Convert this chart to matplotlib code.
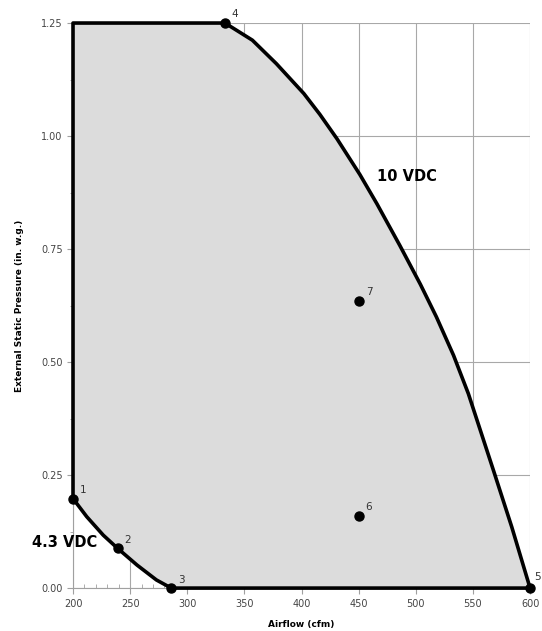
import matplotlib.pyplot as plt
from matplotlib.ticker import MultipleLocator

# operating envelope data
curve_10v_cfm = [333, 357, 378, 402, 416, 431, 451, 466, 486, 504, 518,
                 533, 546, 568, 584, 600]
curve_10v_esp = [1.25, 1.212, 1.16, 1.094, 1.048, 0.994, 0.915, 0.85, 0.758,
                 0.672, 0.60, 0.515, 0.43, 0.26, 0.135, 0.0]
curve_43v_cfm = [200, 212, 226.5, 239, 256, 273, 286]
curve_43v_esp = [0.198, 0.158, 0.117, 0.088, 0.051, 0.018, 0.0]

point_ids = ["1", "2", "3", "4", "5", "6", "7"]
point_cfm = [200, 239, 286, 333, 600, 450, 450]
point_esp = [0.198, 0.088, 0.0, 1.25, 0.0, 0.16, 0.635]

fig = plt.figure(figsize=(5.42, 6.31), dpi=100)
ax = fig.add_axes([0.1347, 0.068, 0.8433, 0.8955])

# boundary polygon: up the left side, across the top, down the 10 VDC curve,
# back along the bottom, then up the 4.3 VDC curve
poly_x = [200, 200] + curve_10v_cfm + curve_43v_cfm[::-1]
poly_y = [curve_43v_esp[0], 1.25] + curve_10v_esp + curve_43v_esp[::-1]
ax.fill(poly_x, poly_y, color='#dcdcdc', zorder=1, lw=0)
ax.plot(poly_x + [poly_x[0]], poly_y + [poly_y[0]], color='black', lw=2.6,
        zorder=3, solid_joinstyle='round', clip_on=False)

ax.plot(point_cfm, point_esp, 'o', color='black', ms=6.5, zorder=4, clip_on=False)
for pid, x, y in zip(point_ids, point_cfm, point_esp):
    off = (3, 6) if pid == "5" else (5, 4)
    ax.annotate(pid, (x, y), xytext=off, textcoords='offset points',
                fontsize=7.5, color='#333333', zorder=5, annotation_clip=False)

ax.text(466, 0.91, "10 VDC", fontsize=10.5, fontweight='bold', va='center', ha='left')
ax.text(221, 0.10, "4.3 VDC", fontsize=10.5, fontweight='bold', va='center', ha='right',
        clip_on=False)

ax.set_xlim(200, 600)
ax.set_ylim(0, 1.25)
ax.xaxis.set_major_locator(MultipleLocator(50))
ax.xaxis.set_minor_locator(MultipleLocator(10))
ax.yaxis.set_major_locator(MultipleLocator(0.25))
ax.yaxis.set_minor_locator(MultipleLocator(0.125))
ax.yaxis.set_major_formatter(plt.FuncFormatter(lambda v, p: f"{v:.2f}"))

ax.grid(True, which='major', color='#a8a8a8', lw=0.8, zorder=0)
ax.set_axisbelow(True)
for s in ['top', 'right']:
    ax.spines[s].set_visible(False)
for s in ['left', 'bottom']:
    ax.spines[s].set_color('#a0a0a0')
    ax.spines[s].set_linewidth(0.8)

ax.tick_params(axis='both', which='major', labelsize=7, colors='#a0a0a0',
               labelcolor='#444444', length=4, width=0.8)
ax.tick_params(axis='x', which='minor', direction='in', length=3, colors='#a0a0a0')
ax.tick_params(axis='y', which='minor', direction='out', length=2, colors='#a0a0a0')

ax.set_xlabel("Airflow (cfm)", fontsize=6.5, fontweight='bold', labelpad=8)
ax.set_ylabel("External Static Pressure (in. w.g.)", fontsize=6.5, fontweight='bold',
              labelpad=12)

fig.savefig("out.png", dpi=100)
plt.close(fig)
